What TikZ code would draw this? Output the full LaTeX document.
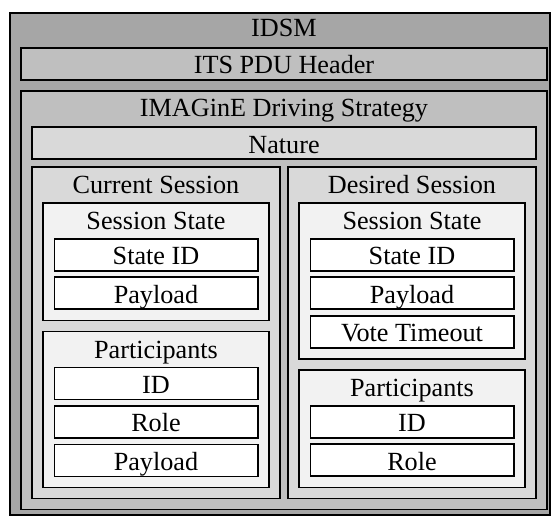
\documentclass[tikz,border=0pt]{standalone}
\usepackage{fontspec}
\setmainfont{Liberation Serif}
\definecolor{gA}{HTML}{A6A6A6}
\definecolor{gB}{HTML}{BFBFBF}
\definecolor{gC}{HTML}{D9D9D9}
\definecolor{gD}{HTML}{F2F2F2}
\newcommand\lbsize{\fontsize{26.2}{30}\selectfont}
\tikzset{
  frame/.style={draw=black, line width=1.8pt},
  lvA/.style={frame, fill=gA},
  lvB/.style={frame, fill=gB},
  lvC/.style={frame, fill=gC},
  lvD/.style={frame, fill=gD},
  leafbox/.style={frame, fill=white},
  txt/.style={font=\lbsize, inner sep=0pt, anchor=base},
}
\begin{document}
\begin{tikzpicture}[x=1pt, y=-1pt]
\useasboundingbox (0,0) rectangle (551,516);
% outer
\draw[lvA] (9.6,12.7) rectangle (550.2,515.2);
\node[txt] (tidsm) at (284,36.7) {IDSM};
% header
\draw[lvB] (20.8,47.7) rectangle (547.2,80);
\node[txt] (tits) at (284,73.3) {ITS PDU Header};
% strategy
\draw[lvB] (20.8,90.7) rectangle (547.2,509.5);
\node[txt] (tstrat) at (284,117) {IMAGinE Driving Strategy};
\draw[lvC] (32,126.7) rectangle (536,159.3);
\node[txt] (tnature) at (284,153.5) {Nature};
% current session
\draw[lvC] (32,166.7) rectangle (280,498.5);
\node[txt] (tcur) at (156,193) {Current Session};
\draw[lvD] (43.2,202.7) rectangle (268.8,320.5);
\node[txt] (tcss) at (156,229) {Session State};
\draw[leafbox] (54.4,238.7) rectangle (257.6,270.7);
\node[txt] (tcsid) at (156,264.5) {State ID};
\draw[leafbox] (54.4,277.2) rectangle (257.6,309.2);
\node[txt] (tcpay) at (156,303) {Payload};
\draw[lvD] (43.2,331.5) rectangle (268.8,487.5);
\node[txt] (tcpart) at (156,358) {Participants};
\draw[leafbox] (54.4,367.5) rectangle (257.6,399.5);
\node[txt] (tcid) at (156,393.3) {ID};
\draw[leafbox] (54.4,406) rectangle (257.6,438);
\node[txt] (tcrole) at (156,431.8) {Role};
\draw[leafbox] (54.4,444.5) rectangle (257.6,476.5);
\node[txt] (tcppay) at (156,470.3) {Payload};
% desired session
\draw[lvC] (288,166.7) rectangle (536,498.5);
\node[txt] (tdes) at (412,193) {Desired Session};
\draw[lvD] (299.2,202.7) rectangle (524.8,358.7);
\node[txt] (tdss) at (412,229) {Session State};
\draw[leafbox] (310.4,238.7) rectangle (513.6,270.7);
\node[txt] (tdsid) at (412,264.5) {State ID};
\draw[leafbox] (310.4,277.2) rectangle (513.6,309.2);
\node[txt] (tdpay) at (412,303) {Payload};
\draw[leafbox] (310.4,315.7) rectangle (513.6,347.7);
\node[txt] (tdvote) at (412,341.5) {Vote Timeout};
\draw[lvD] (299.2,369.7) rectangle (524.8,487.5);
\node[txt] (tdpart) at (412,396.3) {Participants};
\draw[leafbox] (310.4,405.7) rectangle (513.6,437.7);
\node[txt] (tdid) at (412,431.5) {ID};
\draw[leafbox] (310.4,444.2) rectangle (513.6,476.2);
\node[txt] (tdrole) at (412,470) {Role};
\end{tikzpicture}
\end{document}
